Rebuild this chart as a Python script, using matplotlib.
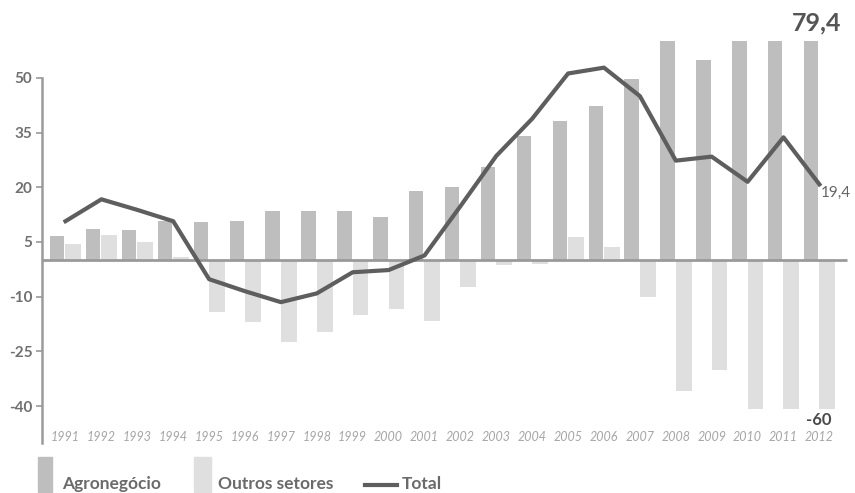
import matplotlib
matplotlib.use("Agg")
import matplotlib.pyplot as plt
from matplotlib.patches import Rectangle
from matplotlib.lines import Line2D

# ─── Data (saldo comercial, US$ bi) ───
years = [str(y) for y in range(1991, 2013)]
agro = [6.6, 8.5, 8.3, 10.7, 10.6, 10.8, 13.6, 13.6, 13.6, 11.9, 18.9,
        20.2, 25.5, 34.0, 38.2, 42.3, 49.7, 60.0, 54.9, 60.0, 60.0, 60.0]
outros = [4.4, 6.9, 4.9, 0.8, -14.3, -16.9, -22.5, -19.6, -15.0, -13.4, -16.6,
          -7.4, -1.3, -1.0, 6.3, 3.5, -10.0, -35.8, -30.1, -40.9, -40.9, -40.9]
total = [10.7, 16.7, 13.8, 10.7, -5.2, -8.5, -11.5, -9.1, -3.3, -2.7, 1.3,
         14.8, 28.6, 38.8, 51.2, 52.8, 45.0, 27.3, 28.4, 21.5, 33.7, 20.8]
yticks = [-40, -25, -10, 5, 20, 35, 50]
label_max = "79,4"
label_min = "-60"
label_last = "19,4"

W, H = 855, 493
C_AGRO = "#bebebe"
C_OUT = "#dfdfdf"
C_LINE = "#5e5e5e"
C_TXT = "#707070"

plt.rcParams["font.family"] = ["Lato", "DejaVu Sans"]

fig = plt.figure(figsize=(W / 100, H / 100), dpi=100)
ax = fig.add_axes([0, 0, 1, 1])
ax.set_xlim(-1.8245, 21.992)
ax.set_ylim(-63.83, 71.35)

x = list(range(len(years)))
ax.bar([i - 0.23 for i in x], agro, width=0.40, color=C_AGRO, zorder=2)
ax.bar([i + 0.22 for i in x], outros, width=0.44, color=C_OUT, zorder=2)
ax.plot([-0.655, 21.77], [0, 0], color="#9a9a9a", lw=2, zorder=3,
        solid_capstyle="butt")
ax.plot(x, total, color=C_LINE, lw=3, zorder=4, solid_joinstyle="round")

# eixo esquerdo
for s in ("top", "right", "bottom"):
    ax.spines[s].set_visible(False)
ax.spines["left"].set_position(("data", -0.655))
ax.spines["left"].set_bounds(-50, 50)
ax.spines["left"].set_color("#9a9a9a")
ax.spines["left"].set_linewidth(1.8)
ax.set_yticks(yticks)
ax.set_yticklabels([str(v) for v in yticks])
ax.tick_params(axis="y", direction="out", length=4, width=1.2, color="#9a9a9a",
               labelsize=11, labelcolor=C_TXT, pad=3)
for lb in ax.get_yticklabels():
    lb.set_fontweight("bold")
ax.set_xticks([])

for i, yr in enumerate(years):
    ax.text(i, -48.6, yr, ha="center", va="center", fontsize=9,
            style="italic", color="#a6a6a6")

ax.text(20.92, 65.0, label_max, ha="center", va="center", fontsize=18,
        fontweight="bold", color="#555555")
ax.text(20.97, -43.8, label_min, ha="center", va="center", fontsize=12,
        fontweight="bold", color="#4a4a4a")
ax.text(21.03, 18.4, label_last, ha="left", va="center", fontsize=11,
        color="#666666")

# legenda manual (coords em pixels)
def fx(px):
    return px / W

def fy(py):
    return 1 - py / H

fig.patches.append(Rectangle((fx(38), fy(492)), fx(14), 35 / H,
                             transform=fig.transFigure, color=C_AGRO))
fig.patches.append(Rectangle((fx(194), fy(492)), fx(17), 35 / H,
                             transform=fig.transFigure, color=C_OUT))
fig.lines.append(Line2D([fx(365), fx(397)], [fy(485), fy(485)],
                        transform=fig.transFigure, color=C_LINE, lw=3))
for px, txt in ((62, "Agronegócio"), (218, "Outros setores"), (402, "Total")):
    fig.text(fx(px), fy(484), txt, ha="left", va="center", fontsize=12.5,
             fontweight="bold", color="#6a6a6a")

fig.savefig("out.png", dpi=100, facecolor="white")
